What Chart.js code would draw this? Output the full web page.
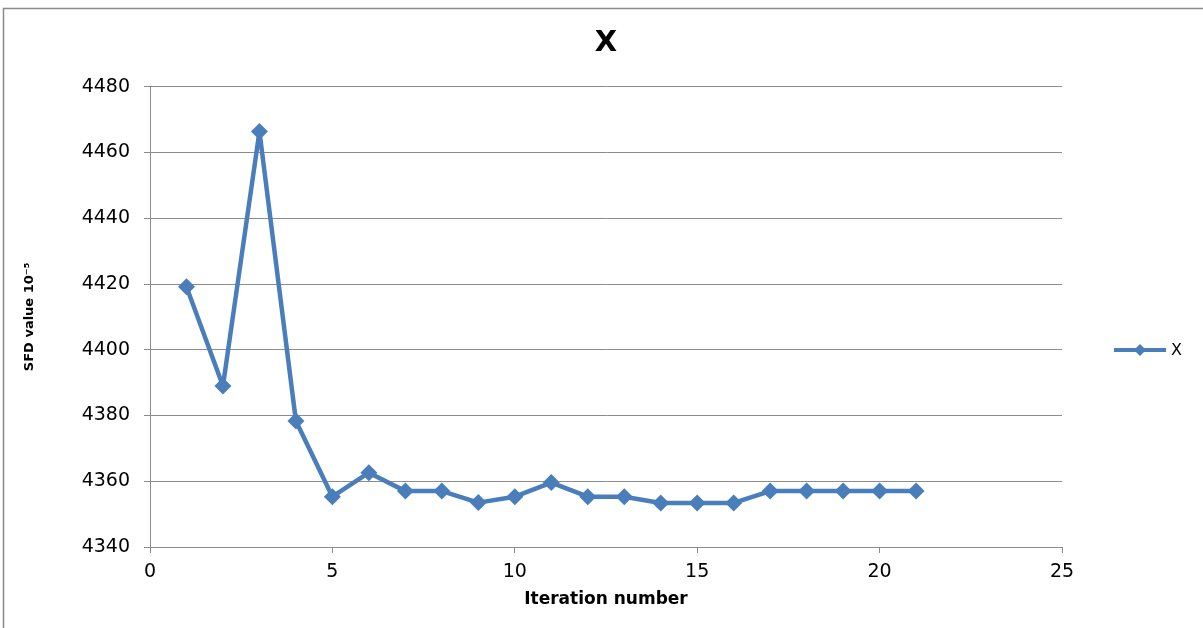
<!DOCTYPE html>
<html>
<head>
<meta charset="utf-8">
<script src="https://cdn.jsdelivr.net/npm/chart.js@4"></script>
<style>
  html, body { margin: 0; padding: 0; background: #fff; }
  #wrap { position: relative; width: 1203px; height: 628px; }
</style>
</head>
<body>
<div id="wrap"><canvas id="chart" width="1203" height="628"></canvas></div>
<script>
// данни, прочетени от графиката
const iterations = [1, 2, 3, 4, 5, 6, 7, 8, 9, 10, 11, 12, 13, 14, 15, 16, 17, 18, 19, 20, 21];
const sfdValues = [4419.2, 4389, 4466.4, 4378.3, 4355.3, 4362.6, 4357, 4357, 4353.5, 4355.3, 4359.6,
                   4355.3, 4355.3, 4353.4, 4353.4, 4353.4, 4357, 4357, 4357, 4357, 4357];
const seriesName = 'X';
const xTicks = [0, 5, 10, 15, 20, 25];
const yTicks = [4340, 4360, 4380, 4400, 4420, 4440, 4460, 4480];

const blue = '#4a7ebb';
const gridGray = '#8c8c8c';
const fontFamily = '"DejaVu Sans", Verdana, sans-serif';

const points = iterations.map((it, i) => ({ x: it, y: sfdValues[i] }));

// рамка около цялата диаграма и легенда вдясно
const framePlugin = {
    id: 'frame',
    beforeDraw(chart) {
        const ctx = chart.ctx;
        ctx.save();
        ctx.fillStyle = '#fff';
        ctx.fillRect(0, 0, chart.width, chart.height);
        ctx.strokeStyle = '#8a8a8a';
        ctx.lineWidth = 1.5;
        ctx.strokeRect(3.5, 8.5, chart.width + 20, chart.height + 20);
        ctx.restore();
    },
    afterDraw(chart) {
        const ctx = chart.ctx;
        const y = (chart.chartArea.top + chart.chartArea.bottom) / 2 + 33;
        const x0 = chart.chartArea.right + 52;
        ctx.save();
        ctx.strokeStyle = blue;
        ctx.lineWidth = 4;
        ctx.beginPath();
        ctx.moveTo(x0, y);
        ctx.lineTo(x0 + 52, y);
        ctx.stroke();
        ctx.fillStyle = blue;
        ctx.beginPath();
        ctx.moveTo(x0 + 26 - 6, y);
        ctx.lineTo(x0 + 26, y - 6);
        ctx.lineTo(x0 + 26 + 6, y);
        ctx.lineTo(x0 + 26, y + 6);
        ctx.closePath();
        ctx.fill();
        ctx.fillStyle = '#000';
        ctx.font = '16px ' + fontFamily;
        ctx.textBaseline = 'middle';
        ctx.fillText(seriesName, x0 + 57, y + 1);
        ctx.restore();
    }
};

new Chart(document.getElementById('chart'), {
    type: 'line',
    data: {
        datasets: [{
            label: seriesName,
            data: points,
            borderColor: blue,
            backgroundColor: blue,
            borderWidth: 4.5,
            borderJoinStyle: 'round',
            pointStyle: 'rectRot',
            pointRadius: 8.5,
            pointBorderWidth: 0,
            pointBackgroundColor: blue,
            tension: 0
        }]
    },
    options: {
        responsive: false,
        animation: false,
        layout: { padding: { left: 9, right: 0, top: 0, bottom: 0 } },
        scales: {
            x: {
                type: 'linear',
                min: 0,
                max: 25,
                afterFit: (scale) => { scale.height = 81; },
                afterBuildTicks: (scale) => { scale.ticks = xTicks.map(v => ({ value: v })); },
                grid: {
                    drawOnChartArea: false,
                    drawTicks: true,
                    tickLength: 6,
                    color: gridGray
                },
                border: { color: gridGray, width: 1 },
                ticks: {
                    padding: 8,
                    color: '#000',
                    font: { family: fontFamily, size: 19 },
                    callback: (v) => String(v)
                },
                title: {
                    display: true,
                    text: 'Iteration number',
                    color: '#000',
                    font: { family: fontFamily, size: 17, weight: 'bold' },
                    padding: { top: 0, bottom: 18 }
                }
            },
            y: {
                min: 4340,
                max: 4480,
                afterFit: (scale) => { scale.width = 141; },
                afterBuildTicks: (scale) => { scale.ticks = yTicks.map(v => ({ value: v })); },
                grid: {
                    drawTicks: true,
                    tickLength: 6,
                    color: gridGray
                },
                border: { color: gridGray, width: 1 },
                ticks: {
                    padding: 14,
                    color: '#000',
                    font: { family: fontFamily, size: 19 },
                    callback: (v) => String(v)
                },
                title: {
                    display: true,
                    text: 'SFD value 10⁻⁵',
                    color: '#000',
                    font: { family: fontFamily, size: 13, weight: 'bold' },
                    padding: { top: 13, bottom: 0 }
                }
            },
            // празна ос вдясно - място за легендата
            yRight: {
                position: 'right',
                min: 4340,
                max: 4480,
                afterFit: (scale) => { scale.width = 141; },
                grid: { display: false },
                border: { display: false },
                ticks: { display: false }
            }
        },
        plugins: {
            legend: { display: false },
            tooltip: { enabled: false },
            title: {
                display: true,
                text: 'X',
                color: '#000',
                font: { family: fontFamily, size: 29, weight: 'bold' },
                padding: { top: 26, bottom: 26 }
            }
        }
    },
    plugins: [framePlugin]
});
</script>
</body>
</html>
